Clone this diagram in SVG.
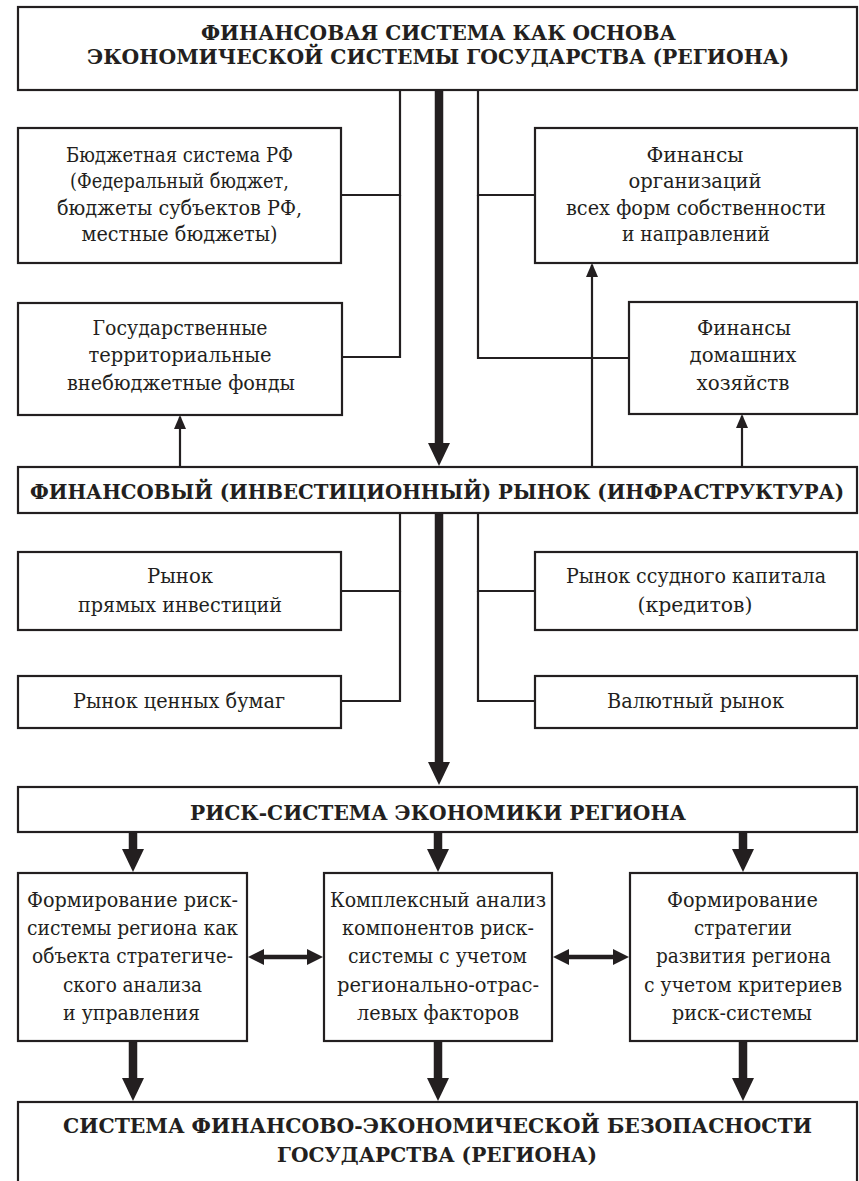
<svg xmlns="http://www.w3.org/2000/svg" width="859" height="1181" viewBox="0 0 859 1181">
<style>
.box{fill:#fff;stroke:#231f20;stroke-width:2.2}
.t{font-family:'DejaVu Serif Condensed','DejaVu Serif','Liberation Serif',serif;font-size:20.5px;fill:#231f20;text-anchor:middle}
.h{font-family:'DejaVu Serif Condensed','DejaVu Serif','Liberation Serif',serif;font-size:20.5px;font-weight:bold;fill:#231f20;text-anchor:middle}
.thin{fill:none;stroke:#231f20;stroke-width:2.2}
.thick{fill:none;stroke:#231f20;stroke-width:8.5}
.dbl{fill:none;stroke:#231f20;stroke-width:4.5}
</style>
<defs>
<marker id="ah" markerUnits="userSpaceOnUse" markerWidth="14" markerHeight="12" viewBox="0 0 14 12" refX="12" refY="6" orient="auto">
<path d="M0,0 L14,6 L0,12 z" fill="#231f20"/>
</marker>
<marker id="big" markerUnits="userSpaceOnUse" markerWidth="23" markerHeight="22" viewBox="0 0 23 22" refX="11" refY="11" orient="auto">
<path d="M0,0 L23,11 L0,22 z" fill="#231f20"/>
</marker>
<marker id="dh" markerUnits="userSpaceOnUse" markerWidth="16" markerHeight="16" viewBox="0 0 16 16" refX="8" refY="8" orient="auto-start-reverse">
<path d="M0,0 L16,8 L0,16 z" fill="#231f20"/>
</marker>
</defs>

<g id="connectors">
<line class="thick" x1="439" y1="90" x2="439" y2="454" marker-end="url(#big)"/>
<polyline class="thin" points="341,195 400,195 400,90"/>
<polyline class="thin" points="342,357 400,357 400,195"/>
<polyline class="thin" points="535,195 478,195 478,90"/>
<polyline class="thin" points="629,358 478,358 478,195"/>
<line class="thin" x1="180" y1="467" x2="180" y2="417" marker-end="url(#ah)"/>
<line class="thin" x1="592" y1="467" x2="592" y2="265" marker-end="url(#ah)"/>
<line class="thin" x1="742" y1="467" x2="742" y2="416" marker-end="url(#ah)"/>

<line class="thick" x1="439" y1="513" x2="439" y2="773" marker-end="url(#big)"/>
<polyline class="thin" points="341,591 400,591 400,513"/>
<polyline class="thin" points="342,701 400,701 400,591"/>
<polyline class="thin" points="535,591 478,591 478,513"/>
<polyline class="thin" points="535,701 478,701 478,591"/>

<line class="thick" x1="133" y1="832" x2="133" y2="860" marker-end="url(#big)"/>
<line class="thick" x1="438" y1="832" x2="438" y2="860" marker-end="url(#big)"/>
<line class="thick" x1="743" y1="832" x2="743" y2="860" marker-end="url(#big)"/>
<line class="thick" x1="133" y1="1041" x2="133" y2="1089" marker-end="url(#big)"/>
<line class="thick" x1="438" y1="1041" x2="438" y2="1089" marker-end="url(#big)"/>
<line class="thick" x1="743" y1="1041" x2="743" y2="1089" marker-end="url(#big)"/>

<line class="dbl" x1="256" y1="957" x2="315" y2="957" marker-start="url(#dh)" marker-end="url(#dh)"/>
<line class="dbl" x1="561" y1="957" x2="621" y2="957" marker-start="url(#dh)" marker-end="url(#dh)"/>
</g>

<g id="n-top">
<rect class="box" x="18" y="7" width="839" height="83"/>
<text class="h" x="438.5" y="40" textLength="475" lengthAdjust="spacingAndGlyphs">ФИНАНСОВАЯ СИСТЕМА КАК ОСНОВА</text>
<text class="h" x="438" y="64" textLength="702" lengthAdjust="spacingAndGlyphs">ЭКОНОМИЧЕСКОЙ СИСТЕМЫ ГОСУДАРСТВА (РЕГИОНА)</text>
</g>

<g id="n-budget">
<rect class="box" x="18" y="128" width="323" height="135"/>
<text class="t" x="179.5" y="162" textLength="227" lengthAdjust="spacingAndGlyphs">Бюджетная система РФ</text>
<text class="t" x="179.5" y="188" textLength="219" lengthAdjust="spacingAndGlyphs">(Федеральный бюджет,</text>
<text class="t" x="179.5" y="215" textLength="245" lengthAdjust="spacingAndGlyphs">бюджеты субъектов РФ,</text>
<text class="t" x="179.5" y="241" textLength="196" lengthAdjust="spacingAndGlyphs">местные бюджеты)</text>
</g>

<g id="n-orgs">
<rect class="box" x="535" y="128" width="322" height="135"/>
<text class="t" x="695" y="162" textLength="97" lengthAdjust="spacingAndGlyphs">Финансы</text>
<text class="t" x="695" y="188" textLength="133" lengthAdjust="spacingAndGlyphs">организаций</text>
<text class="t" x="696" y="215" textLength="260" lengthAdjust="spacingAndGlyphs">всех форм собственности</text>
<text class="t" x="696" y="241" textLength="148" lengthAdjust="spacingAndGlyphs">и направлений</text>
</g>

<g id="n-funds">
<rect class="box" x="18" y="303" width="324" height="112"/>
<text class="t" x="180" y="335" textLength="175" lengthAdjust="spacingAndGlyphs">Государственные</text>
<text class="t" x="180" y="362" textLength="183" lengthAdjust="spacingAndGlyphs">территориальные</text>
<text class="t" x="181" y="390" textLength="228" lengthAdjust="spacingAndGlyphs">внебюджетные фонды</text>
</g>

<g id="n-households">
<rect class="box" x="629" y="302" width="228" height="112"/>
<text class="t" x="744" y="335" textLength="94" lengthAdjust="spacingAndGlyphs">Финансы</text>
<text class="t" x="743" y="362" textLength="107" lengthAdjust="spacingAndGlyphs">домашних</text>
<text class="t" x="743" y="390" textLength="93" lengthAdjust="spacingAndGlyphs">хозяйств</text>
</g>

<g id="n-market">
<rect class="box" x="18" y="467" width="839" height="46"/>
<text class="h" x="437" y="499" textLength="814" lengthAdjust="spacingAndGlyphs">ФИНАНСОВЫЙ (ИНВЕСТИЦИОННЫЙ) РЫНОК (ИНФРАСТРУКТУРА)</text>
</g>

<g id="n-direct">
<rect class="box" x="18" y="552" width="323" height="78"/>
<text class="t" x="180" y="583" textLength="66" lengthAdjust="spacingAndGlyphs">Рынок</text>
<text class="t" x="180" y="612" textLength="204" lengthAdjust="spacingAndGlyphs">прямых инвестиций</text>
</g>

<g id="n-loan">
<rect class="box" x="535" y="552" width="322" height="78"/>
<text class="t" x="696" y="583" textLength="260" lengthAdjust="spacingAndGlyphs">Рынок ссудного капитала</text>
<text class="t" x="695" y="612" textLength="115" lengthAdjust="spacingAndGlyphs">(кредитов)</text>
</g>

<g id="n-securities">
<rect class="box" x="18" y="676" width="323" height="52"/>
<text class="t" x="179" y="708" textLength="212" lengthAdjust="spacingAndGlyphs">Рынок ценных бумаг</text>
</g>

<g id="n-currency">
<rect class="box" x="535" y="676" width="322" height="52"/>
<text class="t" x="695.5" y="708" textLength="177" lengthAdjust="spacingAndGlyphs">Валютный рынок</text>
</g>

<g id="n-risk">
<rect class="box" x="18" y="787" width="839" height="45"/>
<text class="h" x="438" y="820" textLength="496" lengthAdjust="spacingAndGlyphs">РИСК-СИСТЕМА ЭКОНОМИКИ РЕГИОНА</text>
</g>

<g id="n-form">
<rect class="box" x="18" y="873" width="229" height="168"/>
<text class="t" x="132.5" y="907" textLength="211" lengthAdjust="spacingAndGlyphs">Формирование риск-</text>
<text class="t" x="132.5" y="935" textLength="211" lengthAdjust="spacingAndGlyphs">системы региона как</text>
<text class="t" x="132.5" y="963" textLength="201" lengthAdjust="spacingAndGlyphs">объекта стратегиче-</text>
<text class="t" x="132.5" y="992" textLength="139" lengthAdjust="spacingAndGlyphs">ского анализа</text>
<text class="t" x="131.5" y="1020" textLength="137" lengthAdjust="spacingAndGlyphs">и управления</text>
</g>

<g id="n-analysis">
<rect class="box" x="324" y="873" width="228" height="168"/>
<text class="t" x="438" y="907" textLength="216" lengthAdjust="spacingAndGlyphs">Комплексный анализ</text>
<text class="t" x="438" y="935" textLength="192" lengthAdjust="spacingAndGlyphs">компонентов риск-</text>
<text class="t" x="437.5" y="963" textLength="179" lengthAdjust="spacingAndGlyphs">системы с учетом</text>
<text class="t" x="438" y="992" textLength="202" lengthAdjust="spacingAndGlyphs">регионально-отрас-</text>
<text class="t" x="438" y="1020" textLength="162" lengthAdjust="spacingAndGlyphs">левых факторов</text>
</g>

<g id="n-strategy">
<rect class="box" x="630" y="873" width="227" height="168"/>
<text class="t" x="742.5" y="907" textLength="151" lengthAdjust="spacingAndGlyphs">Формирование</text>
<text class="t" x="743" y="935" textLength="98" lengthAdjust="spacingAndGlyphs">стратегии</text>
<text class="t" x="743.5" y="963" textLength="175" lengthAdjust="spacingAndGlyphs">развития региона</text>
<text class="t" x="743" y="992" textLength="198" lengthAdjust="spacingAndGlyphs">с учетом критериев</text>
<text class="t" x="742" y="1020" textLength="140" lengthAdjust="spacingAndGlyphs">риск-системы</text>
</g>

<g id="n-security">
<rect class="box" x="18" y="1102" width="839" height="100"/>
<text class="h" x="437.5" y="1133" textLength="749" lengthAdjust="spacingAndGlyphs">СИСТЕМА ФИНАНСОВО-ЭКОНОМИЧЕСКОЙ БЕЗОПАСНОСТИ</text>
<text class="h" x="437" y="1162" textLength="320" lengthAdjust="spacingAndGlyphs">ГОСУДАРСТВА (РЕГИОНА)</text>
</g>
</svg>
